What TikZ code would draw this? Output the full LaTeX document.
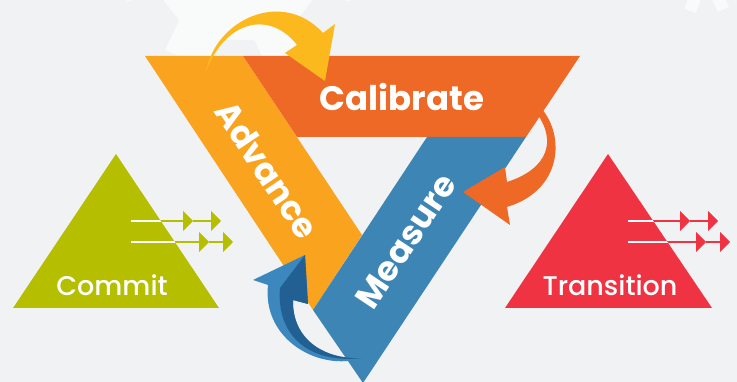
\documentclass[tikz,border=0pt]{standalone}
\usepackage{fontspec}
\setmainfont{Poppins}
\newfontfamily\tagfont{Poppins Medium}
\usetikzlibrary{arrows.meta}

\definecolor{bgcol}{HTML}{F1F2F4}
\definecolor{gearcol}{HTML}{F9FAFA}
\definecolor{advcol}{HTML}{F9A31E}
\definecolor{calcol}{HTML}{ED6925}
\definecolor{meascol}{HTML}{3D85B4}
\definecolor{yelcol}{HTML}{FCB91D}
\definecolor{bluelight}{HTML}{3C87BD}
\definecolor{bluedark}{HTML}{225F92}
\definecolor{commitcol}{HTML}{B5BF00}
\definecolor{transcol}{HTML}{EF3342}

\begin{document}
\begin{tikzpicture}[x=1pt,y=-1pt,
  band/.style={text=white,font=\fontsize{34}{34}\selectfont\bfseries},
  tag/.style={text=white,font=\fontsize{27}{27}\tagfont},
  pointer/.style={line width=1.6pt,-{Triangle[length=10pt,width=20pt]}}]

\clip (0,0) rectangle (737,382);
\fill[bgcol] (0,0) rectangle (737,382);

\fill[gearcol,shift={(238,-48)}] (103.7:90)
  \foreach \a in {115.7,167.1,218.6,270,321.4,12.9,64.3}
  { -- (\a-15:90) -- (\a-11:122) -- (\a+11:122) -- (\a+15:90) } -- cycle;
\fill[gearcol,shift={(705,-30)}] (0:30)
  \foreach \a in {20,65,...,335}
  { -- (\a-12:30) -- (\a-8:44) -- (\a+8:44) -- (\a+12:30) } -- cycle;

\fill[commitcol] (116,154) -- (219,308) -- (13,308) -- cycle;
\fill[transcol] (608,154) -- (712,308) -- (505,308) -- cycle;

\foreach \x/\c in {131/commitcol,628/transcol}{
  \draw[\c,pointer] (\x,221) -- (\x+62,221);
  \draw[\c,pointer] (\x+62,221) -- (\x+90,221);
  \draw[\c,pointer] (\x,242) -- (\x+78,242);
  \draw[\c,pointer] (\x+78,242) -- (\x+102,242);
}
\begin{scope}
\clip (116,154) -- (219,308) -- (13,308) -- cycle;
\draw[white,line width=1.6pt] (131,221) -- (190,221) (131,242) -- (190,242);
\end{scope}
\begin{scope}
\clip (608,154) -- (712,308) -- (505,308) -- cycle;
\draw[white,line width=1.6pt] (628,221) -- (690,221) (628,242) -- (690,242);
\end{scope}

\fill[advcol] (145,56) -- (243,56) -- (362,235) -- (313,310) -- cycle;
\fill[calcol] (243,56) -- (580,56) -- (526,137) -- (297,137) -- cycle;
\fill[meascol] (427,137) -- (526,137) -- (363,383) -- (313,310) -- cycle;

\fill[yelcol] (206,72) .. controls (215,20) and (282,-12) .. (323,33)
  -- (335,24) -- (325,81) -- (285,53) -- (297,45)
  .. controls (270,10) and (225,20) .. (206,72) -- cycle;
\fill[calcol] (541,108) .. controls (565,135) and (563,190) .. (507,207)
  -- (510,225) -- (463,192) -- (505,167) -- (507,182)
  .. controls (550,168) and (555,140) .. (538,115) -- cycle;
\fill[bluelight] (362,358) .. controls (320,372) and (262,340) .. (268,285)
  -- (253,280) -- (305,255) -- (308,304) -- (293,300)
  .. controls (292,340) and (325,360) .. (362,358) -- cycle;
\fill[bluedark] (305,255) -- (308,304) -- (293,300)
  .. controls (292,340) and (325,360) .. (362,358)
  .. controls (312,364) and (276,338) .. (280,288) -- cycle;

\node[band] (calibrate) at (402,97) {Calibrate};
\node[band,rotate=-56.3] (advance) at (267,170) {Advance};
\node[band,rotate=56.3] (measure) at (406,241) {Measure};
\node[tag] (commit) at (112,285) {Commit};
\node[tag] (transition) at (610,285) {Transition};

\end{tikzpicture}
\end{document}
